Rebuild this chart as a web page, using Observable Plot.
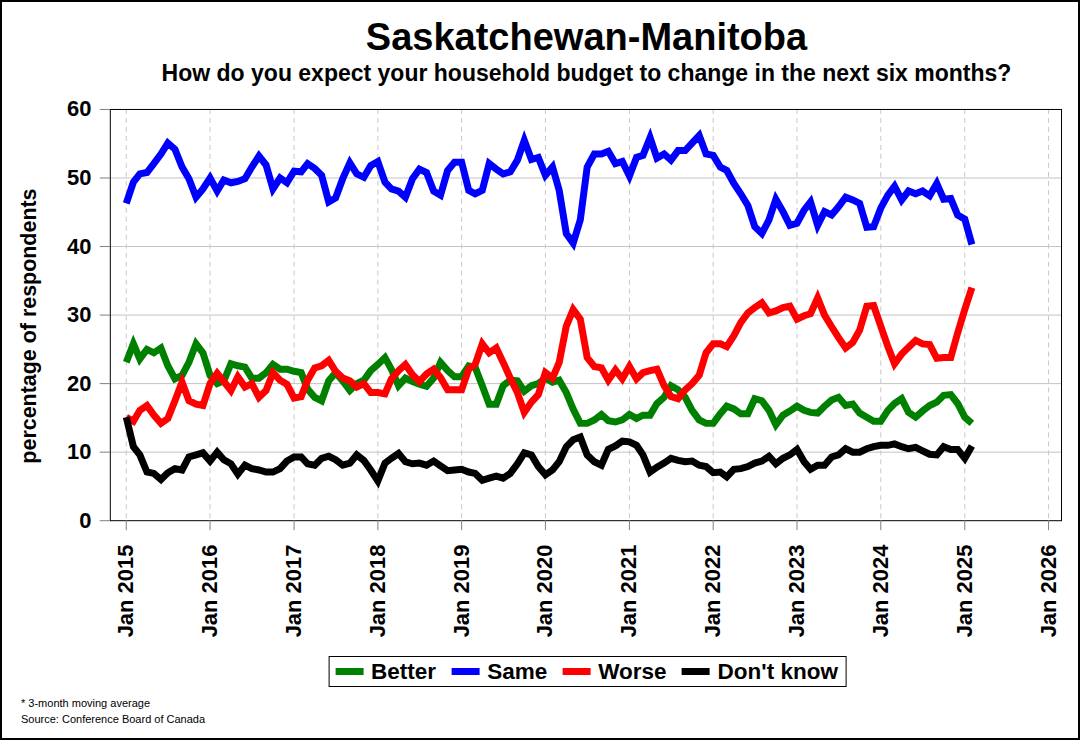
<!DOCTYPE html>
<html>
<head>
<meta charset="utf-8">
<script src="https://cdn.jsdelivr.net/npm/d3@7"></script>
<script src="https://cdn.jsdelivr.net/npm/@observablehq/plot@0.6"></script>
<style>
  html, body { margin: 0; padding: 0; background: #fff; }
  #page {
    position: relative; width: 1080px; height: 740px; box-sizing: border-box;
    border: 2px solid #000; background: #fff; overflow: hidden;
    font-family: "Liberation Sans", Arial, sans-serif; color: #000;
  }
  #title {
    position: absolute; left: 108px; width: 953px; top: 15.8px;
    text-align: center; font-weight: bold; font-size: 38px; line-height: 38px; white-space: nowrap;
  }
  #subtitle {
    position: absolute; left: 108px; width: 953px; top: 60.2px;
    text-align: center; font-weight: bold; font-size: 23px; line-height: 23px; white-space: nowrap;
  }
  #chart { position: absolute; left: -2px; top: 88px; }
  #legend {
    position: absolute; left: 585.5px; top: 654px; transform: translateX(-50%);
    display: inline-flex; align-items: center; height: 31px; box-sizing: border-box;
    border: 1px solid #000; padding: 0 8px 0 6px; white-space: nowrap;
    font-weight: bold; font-size: 22.5px;
  }
  .item { display: inline-flex; align-items: center; margin-right: 15px; }
  .item:last-child { margin-right: 0; }
  .swatch { display: inline-block; width: 28px; height: 7px; margin-right: 8px; }
  #notes {
    position: absolute; left: 19px; top: 694px; font-size: 11px; line-height: 15.6px;
  }
</style>
</head>
<body>
<div id="page">
  <div id="title"></div>
  <div id="subtitle"></div>
  <div id="chart"></div>
  <div id="legend"></div>
  <div id="notes"></div>
</div>
<script>
// ---------------- data ----------------
const titleText = "Saskatchewan-Manitoba";
const subtitleText = "How do you expect your household budget to change in the next six months?";
const yAxisLabel = "percentage of respondents";
const noteLines = ["* 3-month moving average", "Source: Conference Board of Canada"];

const seriesNames = ["Better", "Same", "Worse", "Don't know"];
const seriesColors = ["#008000", "#0000ff", "#ff0000", "#000000"];

// monthly observations, Jan 2015 .. Feb 2025
const firstMonth = "2015-01-01";
const lastMonthExclusive = "2025-03-01";

const better = [
  23.1, 25.8, 23.6, 25.0, 24.5, 25.2, 22.6, 20.7, 21.2, 23.1,
  25.8, 24.5, 21.2, 20.0, 20.4, 22.9, 22.6, 22.4, 20.8, 20.8,
  21.6, 22.8, 22.1, 22.1, 21.8, 21.6, 19.2, 18.0, 17.5, 20.4,
  21.6, 20.4, 19.0, 20.0, 20.5, 21.9, 22.8, 23.8, 22.1, 19.7,
  20.8, 20.3, 19.9, 19.6, 20.8, 23.1, 21.9, 21.0, 21.0, 22.6,
  22.4, 19.7, 17.0, 17.0, 19.7, 20.5, 20.4, 18.9, 19.7, 20.0,
  20.8, 20.2, 20.5, 18.7, 16.3, 14.2, 14.2, 14.7, 15.5, 14.6,
  14.4, 14.7, 15.5, 14.9, 15.4, 15.4, 17.1, 18.0, 19.7, 19.1,
  18.0, 16.1, 14.7, 14.2, 14.2, 15.6, 16.7, 16.3, 15.6, 15.6,
  17.8, 17.5, 16.1, 14.0, 15.4, 16.0, 16.7, 16.1, 15.8, 15.7,
  16.7, 17.6, 18.0, 16.8, 17.0, 15.7, 15.1, 14.5, 14.5, 16.1,
  17.1, 17.8, 15.8, 15.1, 16.0, 16.8, 17.3, 18.3, 18.4, 17.1,
  15.1, 14.2
];

const same = [
  46.3, 49.4, 50.6, 50.8, 52.1, 53.5, 55.1, 54.2, 51.6, 49.9,
  47.2, 48.4, 50.0, 48.1, 49.7, 49.3, 49.5, 49.9, 51.6, 53.2,
  51.9, 48.4, 50.0, 49.3, 51.0, 50.9, 52.1, 51.4, 50.4, 46.5,
  47.1, 49.9, 52.2, 50.6, 50.1, 51.8, 52.4, 49.4, 48.4, 48.1,
  47.2, 49.9, 51.3, 50.8, 48.1, 47.5, 51.1, 52.3, 52.3, 48.2,
  47.7, 48.2, 52.1, 51.3, 50.6, 50.9, 52.6, 55.5, 52.7, 53.0,
  50.4, 51.6, 48.2, 41.9, 40.5, 43.9, 51.6, 53.5, 53.5, 53.9,
  52.1, 52.4, 50.3, 53.0, 53.3, 55.9, 52.9, 53.5, 52.6, 54.0,
  54.0, 55.1, 56.2, 53.5, 53.3, 51.6, 51.1, 49.2, 47.7, 46.0,
  42.9, 41.9, 43.9, 46.9, 45.1, 43.1, 43.4, 45.3, 46.5, 43.1,
  45.1, 44.6, 45.8, 47.2, 46.8, 46.3, 42.8, 42.9, 45.6, 47.5,
  48.8, 46.8, 48.1, 47.7, 48.1, 47.4, 49.2, 46.9, 47.0, 44.6,
  44.0, 40.3
];

const worse = [
  15.1, 14.5, 16.1, 16.8, 15.4, 14.2, 14.9, 17.5, 20.2, 17.5,
  17.0, 16.8, 20.0, 21.5, 20.3, 19.0, 21.0, 19.5, 20.0, 18.0,
  19.0, 21.6, 20.5, 19.9, 17.9, 18.1, 20.5, 22.3, 22.6, 23.4,
  21.8, 20.8, 20.4, 19.5, 20.0, 18.7, 18.7, 18.5, 20.7, 21.9,
  22.8, 21.3, 20.3, 21.4, 22.1, 20.9, 19.1, 19.1, 19.1, 22.1,
  22.8, 25.8, 24.5, 25.2, 23.1, 20.8, 18.7, 15.8, 17.3, 18.4,
  21.6, 20.8, 23.1, 28.4, 30.8, 29.4, 23.8, 22.5, 22.3, 20.5,
  22.0, 20.7, 22.5, 20.7, 21.6, 21.9, 22.1, 19.7, 18.1, 17.8,
  19.1, 20.0, 21.2, 24.5, 25.8, 25.8, 25.4, 27.0, 28.9, 30.3,
  31.1, 31.8, 30.3, 30.6, 31.1, 31.3, 29.4, 29.9, 30.2, 32.5,
  30.0, 28.3, 26.7, 25.2, 26.0, 27.8, 31.3, 31.4, 28.4, 25.4,
  22.9, 24.3, 25.3, 26.3, 25.8, 25.7, 23.7, 23.8, 23.8, 27.4,
  30.8, 34.0
];

const dontKnow = [
  15.1, 10.8, 9.6, 7.1, 6.9, 6.0, 7.0, 7.6, 7.4, 9.3,
  9.6, 9.9, 8.7, 10.0, 8.9, 8.3, 6.8, 8.1, 7.6, 7.4,
  7.1, 7.1, 7.6, 8.7, 9.3, 9.3, 8.3, 8.1, 9.1, 9.4,
  8.9, 8.1, 8.4, 9.6, 8.8, 7.4, 5.8, 8.4, 9.1, 9.8,
  8.6, 8.3, 8.4, 8.1, 8.7, 8.0, 7.3, 7.4, 7.5, 7.1,
  6.9, 5.9, 6.2, 6.5, 6.2, 6.9, 8.3, 9.9, 9.6, 7.9,
  6.7, 7.4, 8.6, 10.8, 11.8, 12.2, 9.6, 8.6, 8.1, 10.4,
  10.9, 11.6, 11.5, 11.0, 9.6, 7.1, 7.8, 8.4, 9.1, 8.8,
  8.6, 8.7, 8.1, 7.9, 7.0, 7.1, 6.4, 7.5, 7.6, 7.9,
  8.4, 8.7, 9.4, 8.3, 9.1, 9.6, 10.4, 8.6, 7.5, 8.1,
  8.1, 9.3, 9.6, 10.5, 10.0, 10.0, 10.5, 10.8, 11.0, 11.0,
  11.2, 10.8, 10.5, 10.7, 10.2, 9.7, 9.6, 10.8, 10.4, 10.4,
  9.1, 10.9
];

const yTicks = [0, 10, 20, 30, 40, 50, 60];
const yGridValues = [10, 20, 30, 40, 50];
const xTickDates = ["2015-01-01", "2016-01-01", "2017-01-01", "2018-01-01", "2019-01-01", "2020-01-01",
                    "2021-01-01", "2022-01-01", "2023-01-01", "2024-01-01", "2025-01-01", "2026-01-01"];
const xTickLabels = ["Jan 2015", "Jan 2016", "Jan 2017", "Jan 2018", "Jan 2019", "Jan 2020",
                     "Jan 2021", "Jan 2022", "Jan 2023", "Jan 2024", "Jan 2025", "Jan 2026"];
const xDomain = ["2014-10-23T10:00:00Z", "2026-02-26T12:00:00Z"];

// ---------------- build table ----------------
const months = d3.utcMonth.range(new Date(firstMonth), new Date(lastMonthExclusive));
const seriesValues = [better, same, worse, dontKnow];
const rows = [];
seriesNames.forEach((name, i) => {
  seriesValues[i].forEach((v, j) => rows.push({date: months[j], value: v, series: name}));
});
const xTicks = xTickDates.map(d => new Date(d));
const labelFor = d => xTickLabels[xTickDates.indexOf(d.toISOString().slice(0, 10))];

// ---------------- text ----------------
document.getElementById("title").textContent = titleText;
document.getElementById("subtitle").textContent = subtitleText;
document.getElementById("notes").innerHTML = noteLines.map(t => `<div>${t}</div>`).join("");
document.getElementById("legend").innerHTML = seriesNames.map((n, i) =>
  `<span class="item"><span class="swatch" style="background:${seriesColors[i]}"></span>${n}</span>`).join("");

// ---------------- chart ----------------
const chart = Plot.plot({
  width: 1080,
  height: 560,
  marginLeft: 110,
  marginRight: 17,
  marginTop: 19,
  marginBottom: 129,
  style: {
    fontFamily: "'Liberation Sans', Arial, sans-serif",
    fontWeight: "bold",
    fontSize: "22px",
    color: "#000",
    background: "transparent",
    overflow: "visible"
  },
  x: {type: "utc", domain: xDomain.map(d => new Date(d))},
  y: {domain: [0, 60]},
  color: {domain: seriesNames, range: seriesColors},
  marks: [
    Plot.gridY(yGridValues, {stroke: "#c4c4c4", strokeOpacity: 1, strokeWidth: 1}),
    Plot.gridX(xTicks, {stroke: "#c8c8c8", strokeOpacity: 1, strokeWidth: 1, strokeDasharray: "5,4"}),
    Plot.line(rows, {
      x: "date", y: "value", z: "series", stroke: "series",
      strokeWidth: 7, strokeLinejoin: "miter", strokeLinecap: "butt", strokeMiterlimit: 4
    }),
    Plot.frame({stroke: "#000", strokeWidth: 1}),
    Plot.axisY(yTicks, {
      tickSize: 10, tickPadding: 9, stroke: "#808080", label: null,
      fontSize: 22, fontWeight: "bold", fill: "#000"
    }),
    Plot.axisX(xTicks, {
      tickSize: 10, tickPadding: 14, tickRotate: -90, stroke: "#808080", label: null,
      tickFormat: labelFor, fontSize: 22, fontWeight: "bold", fill: "#000"
    }),
    Plot.text([yAxisLabel], {
      frameAnchor: "left", rotate: -90, lineAnchor: "bottom", textAnchor: "middle",
      dx: -74, dy: 11, fontSize: 21.5, fontWeight: "bold", fill: "#000"
    })
  ]
});
document.getElementById("chart").appendChild(chart);
</script>
</body>
</html>
